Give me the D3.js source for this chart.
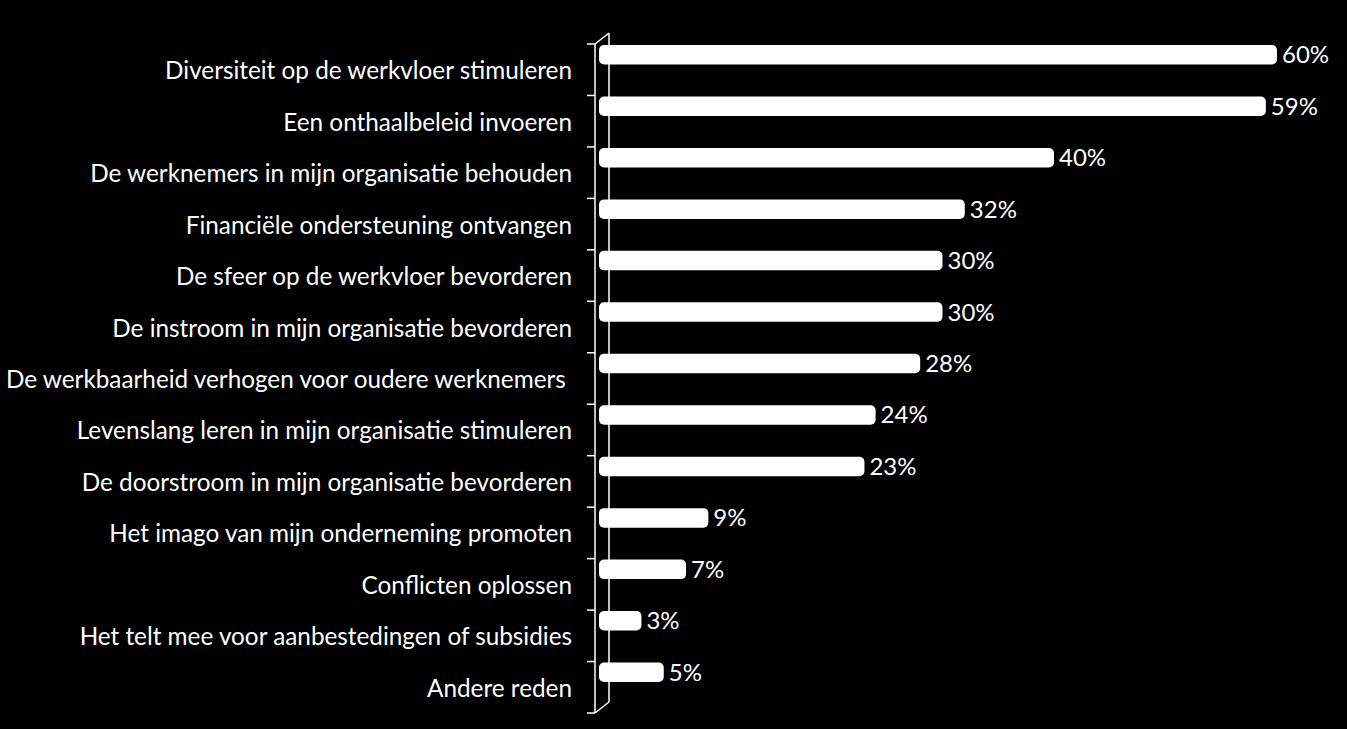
<!DOCTYPE html>
<html><head><meta charset="utf-8">
<script src="https://cdn.jsdelivr.net/npm/d3@7"></script>
<style>html,body{margin:0;padding:0;background:#000;}svg{display:block;}</style>
</head><body>
<svg id="c" width="1347" height="729"></svg>
<script>
const categories = [
  "Diversiteit op de werkvloer stimuleren",
  "Een onthaalbeleid invoeren",
  "De werknemers in mijn organisatie behouden",
  "Financiële ondersteuning ontvangen",
  "De sfeer op de werkvloer bevorderen",
  "De instroom in mijn organisatie bevorderen",
  "De werkbaarheid verhogen voor oudere werknemers ",
  "Levenslang leren in mijn organisatie stimuleren",
  "De doorstroom in mijn organisatie bevorderen",
  "Het imago van mijn onderneming promoten",
  "Conflicten oplossen",
  "Het telt mee voor aanbestedingen of subsidies",
  "Andere reden"
];
const values = [60, 59, 40, 32, 30, 30, 28, 24, 23, 9, 7, 3, 5];
const valueLabels = values.map(v => v + "%");

const svg = d3.select("#c");
const font = "Lato, 'Open Sans', sans-serif";
const x = d3.scaleLinear().domain([0, 60]).range([608, 1277]);
const y = d3.scaleBand().domain(categories).range([44, 713]).padding(0);
const frontX = 595, depthX = 14, depthY = 11;

// axis wall
const g = svg.append("g").attr("stroke", "#fff").attr("stroke-width", 1.5).attr("fill", "none");
g.append("line").attr("x1", frontX).attr("x2", frontX).attr("y1", y.range()[0]).attr("y2", y.range()[1]);
g.append("line").attr("x1", frontX + depthX).attr("x2", frontX + depthX).attr("y1", y.range()[0] - depthY).attr("y2", y.range()[1] - depthY);
g.append("line").attr("x1", frontX).attr("x2", frontX + depthX).attr("y1", y.range()[0]).attr("y2", y.range()[0] - depthY);
g.append("line").attr("x1", frontX).attr("x2", frontX + depthX).attr("y1", y.range()[1]).attr("y2", y.range()[1] - depthY);
const tickYs = categories.map(c => y(c)).concat([y.range()[1]]);
g.selectAll("line.tick").data(tickYs).join("line").attr("class", "tick")
  .attr("x1", frontX - 8).attr("x2", frontX).attr("y1", d => d).attr("y2", d => d);

// bars
const bh = 19.5;
svg.append("g").selectAll("rect").data(values).join("rect")
  .attr("x", x(0) - 9)
  .attr("y", (d, i) => y(categories[i]) + 1)
  .attr("width", d => x(d) - x(0) + 9)
  .attr("height", bh)
  .attr("rx", 5).attr("ry", 5)
  .attr("fill", "#fff");

// value labels
svg.append("g").selectAll("text").data(values).join("text")
  .attr("x", d => x(d) + 5)
  .attr("y", (d, i) => y(categories[i]) + 1 + bh / 2 + 8.5)
  .attr("fill", "#fff").attr("font-family", font).attr("font-size", 24)
  .text((d, i) => valueLabels[i]);

// category labels
svg.append("g").selectAll("text").data(categories).join("text")
  .attr("x", 572)
  .attr("y", d => y(d) + y.bandwidth() / 2 + 9.5)
  .attr("text-anchor", "end")
  .attr("fill", "#fff").attr("font-family", font).attr("font-size", 24.3)
  .attr("xml:space", "preserve")
  .style("white-space", "pre")
  .text(d => d);
</script>
</body></html>
